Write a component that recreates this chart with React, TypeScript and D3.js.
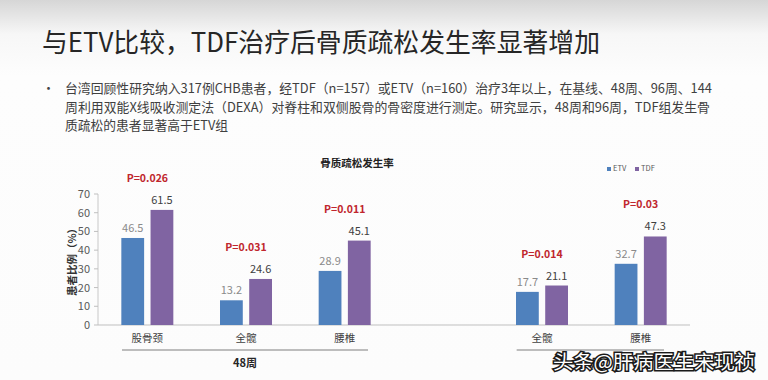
import React from 'react';
import * as d3 from 'd3';

const slots = ['w48_fn', 'w48_th', 'w48_ls', 'blank', 'w96_th', 'w96_ls'];
const slotLabels = ['股骨颈', '全髋', '腰椎', '', '全髋', '腰椎'];
const seriesNames = ['ETV', 'TDF'];
const etvValues: (number | null)[] = [46.5, 13.2, 28.9, null, 17.7, 32.7];
const tdfValues: (number | null)[] = [61.5, 24.6, 45.1, null, 21.1, 47.3];
const pValues = ['P=0.026', 'P=0.031', 'P=0.011', '', 'P=0.014', 'P=0.03'];
const yTicks = [0, 10, 20, 30, 40, 50, 60, 70];
const groups = [
  { label: '48周', from: 'w48_fn', to: 'w48_ls' },
  { label: '96周', from: 'w96_th', to: 'w96_ls' },
];

const title = '与ETV比较，TDF治疗后骨质疏松发生率显著增加';
const bulletLines = [
  '台湾回顾性研究纳入317例CHB患者，经TDF（n=157）或ETV（n=160）治疗3年以上，在基线、48周、96周、144',
  '周利用双能X线吸收测定法（DEXA）对脊柱和双侧股骨的骨密度进行测定。研究显示，48周和96周，TDF组发生骨',
  '质疏松的患者显著高于ETV组',
];
const chartTitle = '骨质疏松发生率';
const yLabel = '患者比例（%）';
const watermark = '头条@肝病医生宋现祯';

const COLORS: Record<string, string> = { ETV: '#4F81BD', TDF: '#8064A2' };
const FONT = '"Noto Sans CJK SC", "Noto Sans", sans-serif';

export default function App() {
  const W = 768, H = 380;
  const x = d3.scaleBand<string>().domain(slots).range([98, 690]).padding(0);
  const x1 = d3.scaleBand<string>().domain(seriesNames).range([0, 52]).paddingInner(0.22);
  const y = d3.scaleLinear().domain([0, 70]).range([325, 194]);
  const offset = (x.bandwidth() - 52) / 2;
  const data: Record<string, (number | null)[]> = { ETV: etvValues, TDF: tdfValues };

  return (
    <svg width={W} height={H} style={{ position: 'fixed', left: 0, top: 0 }} fontFamily={FONT}>
      <defs>
        <linearGradient id="bg" x1="0" y1="0" x2="0" y2="1">
          <stop offset="0" stopColor="#d6d6d6" />
          <stop offset="0.09" stopColor="#f7f7f7" />
          <stop offset="0.2" stopColor="#fdfdfd" />
          <stop offset="1" stopColor="#fcfcfc" />
        </linearGradient>
      </defs>
      <rect width={W} height={H} fill="url(#bg)" />

      <text x={42} y={52} fontSize={26.5} fill="#262626" textLength={558} lengthAdjust="spacingAndGlyphs">{title}</text>

      <text x={42} y={93} fontSize={13} fill="#444">•</text>
      {bulletLines.map((l, i) => (
        <text key={i} x={65} y={93 + i * 18.5} fontSize={13} fill="#404040"
          textLength={i === 0 ? 647 : i === 1 ? 645 : 163} lengthAdjust="spacingAndGlyphs">{l}</text>
      ))}

      <text x={357} y={167} fontSize={10.5} fontWeight="bold" fill="#222" textAnchor="middle">{chartTitle}</text>

      {seriesNames.map((s, i) => (
        <g key={s} transform={`translate(${607 + i * 28},171)`}>
          <rect x={0} y={-4} width={4} height={4} fill={COLORS[s]} />
          <text x={6} y={0} fontSize={7.5} fill="#595959">{s}</text>
        </g>
      ))}

      {/* y axis */}
      <line x1={98} x2={98} y1={y(70)} y2={y(0)} stroke="#c8c8c8" />
      {yTicks.map(t => (
        <g key={t}>
          <line x1={94} x2={98} y1={y(t)} y2={y(t)} stroke="#bfbfbf" />
          <text x={90} y={y(t) + 4} fontSize={11} fill="#595959" textAnchor="end">{t}</text>
        </g>
      ))}
      <text transform={`translate(76,${y(35)}) rotate(-90)`} fontSize={10.5} fontWeight="bold" fill="#333" textAnchor="middle">{yLabel}</text>

      {/* x baseline */}
      <line x1={98} x2={690} y1={y(0)} y2={y(0)} stroke="#bfbfbf" />

      {slots.map((slot, i) => {
        const gx = (x(slot) as number) + offset;
        const vals = seriesNames.map(s => data[s][i]);
        if (vals.every(v => v == null)) return null;
        const maxV = d3.max(vals as number[]) as number;
        return (
          <g key={slot}>
            {seriesNames.map((s) => {
              const v = data[s][i] as number;
              const bx = gx + (x1(s) as number);
              return (
                <g key={s}>
                  <rect x={bx} y={y(v)} width={x1.bandwidth()} height={y(0) - y(v)} fill={COLORS[s]} />
                  <text x={bx + x1.bandwidth() / 2} y={y(v) - 6} fontSize={11} textAnchor="middle"
                    fill={s === 'ETV' ? '#8a8a8a' : '#404040'}>{v.toFixed(1)}</text>
                </g>
              );
            })}
            <text x={gx + 26} y={y(maxV) - 28} fontSize={10.5} fontWeight="bold" fill="#C0262D" textAnchor="middle">{pValues[i]}</text>
            <text x={gx + 26} y={y(0) + 17} fontSize={10.5} fill="#404040" textAnchor="middle">{slotLabels[i]}</text>
          </g>
        );
      })}

      {groups.map(g => {
        const a = (x(g.from) as number) + 24;
        const b = (x(g.to) as number) + x.bandwidth() - 26;
        return (
          <g key={g.label}>
            <line x1={a} x2={b} y1={350} y2={350} stroke="#7f7f7f" />
            <text x={(a + b) / 2} y={367} fontSize={11} fontWeight="bold" fill="#262626" textAnchor="middle">{g.label}</text>
          </g>
        );
      })}

      <text x={553} y={369} fontSize={19.5} fill="#ffffff" stroke="#1a1a1a" strokeWidth={3} paintOrder="stroke" textLength={202} lengthAdjust="spacingAndGlyphs">{watermark}</text>
    </svg>
  );
}
